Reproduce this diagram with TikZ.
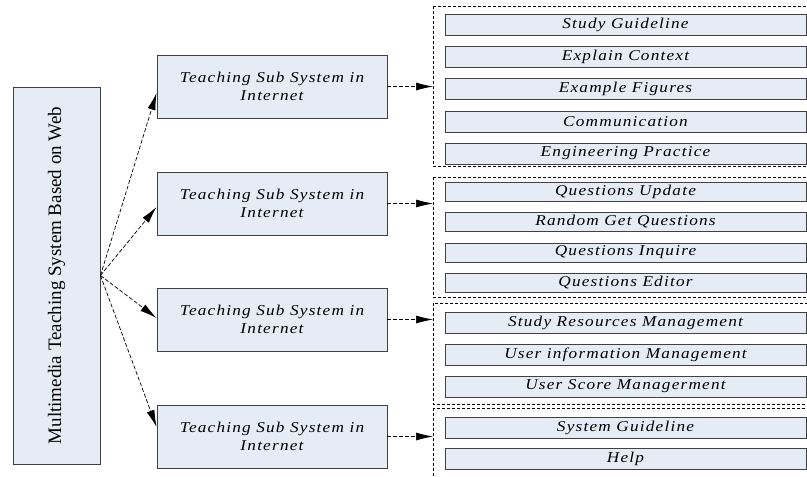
\documentclass[tikz,border=0pt]{standalone}
\usepackage{fontspec}
\usepackage{graphicx}
\setmainfont{Liberation Serif}
\newfontfamily\itemfont[FakeStretch=1.15,LetterSpace=8]{Liberation Serif}
\usetikzlibrary{arrows.meta}
\definecolor{boxfill}{RGB}{230,236,246}
\definecolor{boxline}{RGB}{64,64,64}
\tikzset{
	sysbox/.style={draw=boxline,fill=boxfill,line width=0.9pt,inner sep=0pt},
	subbox/.style={sysbox,minimum width=230pt,minimum height=63pt,align=center,
		font=\itemfont\itshape\fontsize{15}{18}\selectfont},
	itembox/.style={sysbox,minimum width=361pt,minimum height=21pt,
		font=\itemfont\itshape\fontsize{15}{18}\selectfont},
	linkarrow/.style={dash pattern=on 4pt off 2pt,line width=0.7pt,-{Latex[length=17pt,width=8pt]}},
	groupline/.style={dash pattern=on 3pt off 2pt,line width=0.7pt}
}
\begin{document}
\begin{tikzpicture}[x=1pt,y=-1pt]
	\useasboundingbox (0,0) rectangle (807,477);
	\clip (0,0) rectangle (807,477); % Clips the open right side of the groups
	\fill[white] (0,0) rectangle (807,477);

	\node[sysbox,minimum width=87pt,minimum height=377pt] (MainSys) at (56.5,275.5)
		{\rotatebox{90}{\fontsize{19}{23}\selectfont Multimedia Teaching System Based on Web}};

	\foreach \i/\y in {1/86.5,2/203.5,3/319.5,4/436.5}
		{\node[subbox] (Sub\i) at (272,\y) {Teaching Sub System in\\Internet};}

	% dashed groups
	\coordinate (G1top) at (433,6);   \coordinate (G1bot) at (812,166);
	\coordinate (G2top) at (433,177); \coordinate (G2bot) at (812,297);
	\coordinate (G3top) at (433,303); \coordinate (G3bot) at (812,404);
	\coordinate (G4top) at (433,408); \coordinate (G4bot) at (812,490);
	\foreach \i in {1,...,4}{\draw[groupline] (G\i top) rectangle (G\i bot);}

	\foreach \j/\y/\txt in {1/24.5/Study Guideline,2/56.5/Explain Context,3/88.5/Example Figures,
		4/121.5/Communication,5/153.5/Engineering Practice}
		{\node[itembox] (ItemA\j) at (625.5,\y) {\txt};}
	\foreach \j/\y/\txt in {1/192/Questions Update,2/222/Random Get Questions,
		3/252.5/Questions Inquire,4/283/Questions Editor}
		{\node[itembox,minimum height=19pt] (ItemB\j) at (625.5,\y) {\txt};}
	\foreach \j/\y/\txt in {1/322.5/Study Resources Management,2/354.5/User information Management,
		3/386.5/User Score Managerment}
		{\node[itembox] (ItemC\j) at (625.5,\y) {\txt};}
	\foreach \j/\y/\txt in {1/427.5/System Guideline,2/459/Help}
		{\node[itembox] (ItemD\j) at (625.5,\y) {\txt};}

	% connectors
	\foreach \i/\s in {1/-6.5,2/-3.5,3/1.5,4/9.5}
		{\draw[linkarrow] (MainSys.east) -- ([yshift=\s pt]Sub\i.west);}
	\foreach \i in {1,...,4}
		{\draw[linkarrow] (Sub\i.east) -- (Sub\i.east -| G\i top);}
\end{tikzpicture}
\end{document}
